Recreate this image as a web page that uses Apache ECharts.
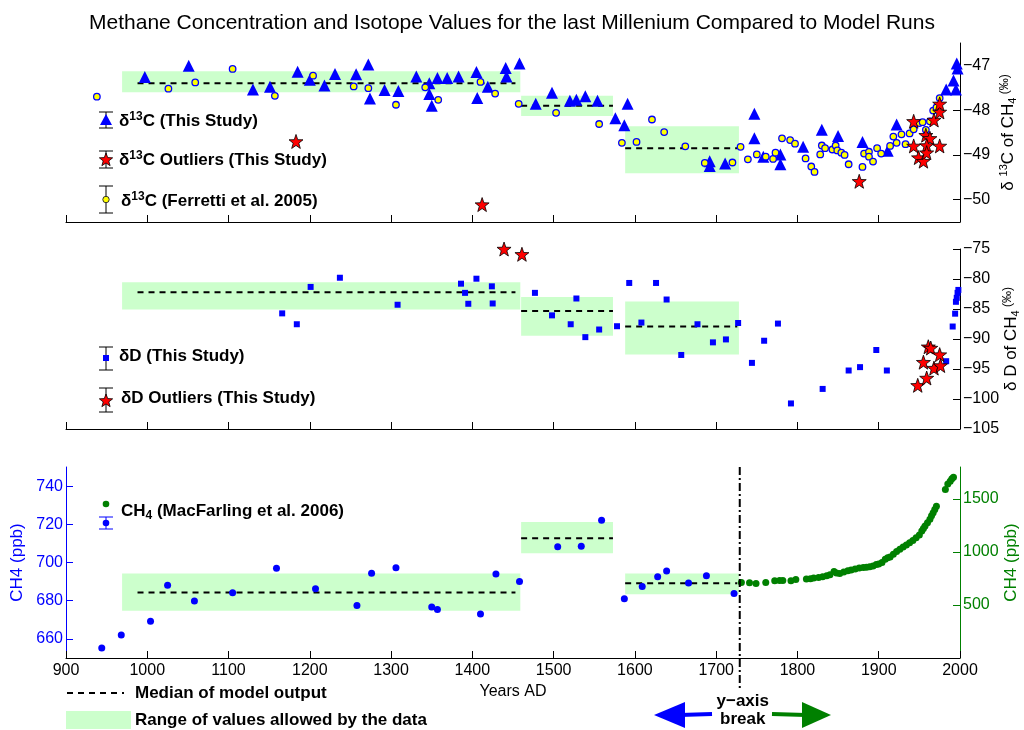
<!DOCTYPE html>
<html><head><meta charset="utf-8">
<script src="https://cdn.jsdelivr.net/npm/echarts@6/dist/echarts.min.js"></script>
<style>html,body{margin:0;padding:0;background:#fff}#c{width:1024px;height:730px}</style>
</head><body><div id="c"></div><script>
// ---------------- DATA ----------------
const xTicks = [900,1000,1100,1200,1300,1400,1500,1600,1700,1800,1900,2000];
const d13cTicks = [-50,-49,-48,-47];
const dDTicks = [-105,-100,-95,-90,-85,-80,-75];
const ch4LeftTicks = [660,680,700,720,740];
const ch4RightTicks = [500,1000,1500];

const d13cThisStudy = [[997,-47.26],[1051,-47.01],[1130,-47.54],[1151,-47.48],[1185,-47.14],[1200,-47.32],[1218,-47.45],[1231,-47.19],[1257,-47.2],[1272,-46.98],[1274,-47.74],[1292,-47.55],[1309,-47.57],[1331,-47.25],[1347,-47.4],[1347,-47.64],[1350,-47.9],[1357,-47.28],[1369,-47.28],[1383,-47.25],[1405,-47.15],[1406,-47.73],[1419,-47.48],[1441,-47.06],[1442,-47.25],[1458,-46.96],[1478,-47.86],[1498,-47.61],[1520,-47.79],[1528,-47.77],[1539,-47.69],[1554,-47.79],[1576,-48.18],[1587,-48.34],[1591,-47.86],[1692,-49.14],[1692,-49.25],[1711,-49.19],[1747,-48.08],[1747,-48.63],[1758,-49.04],[1779,-48.99],[1779,-49.21],[1807,-48.82],[1830,-48.44],[1850,-48.58],[1880,-48.71],[1911,-48.91],[1922,-48.32],[1983,-47.54],[1992,-47.34],[1995,-47.54],[1996,-46.96],[1997,-47.07]];
const d13cOutliers = [[1183,-48.7],[1412,-50.11],[1876,-49.59],[1943,-48.25],[1943,-48.8],[1949,-49.06],[1955,-49.14],[1958,-48.56],[1963,-48.63],[1959,-48.79],[1959,-48.95],[1968,-48.22],[1975,-48.04],[1975,-47.86],[1975,-48.8]];
const d13cFerretti = [[938,-47.7],[1026,-47.52],[1059,-47.38],[1105,-47.08],[1157,-47.68],[1204,-47.23],[1254,-47.47],[1272,-47.51],[1306,-47.88],[1342,-47.49],[1358,-47.77],[1410,-47.37],[1428,-47.63],[1457,-47.86],[1503,-48.06],[1556,-48.31],[1584,-48.73],[1602,-48.71],[1621,-48.21],[1636,-48.49],[1662,-48.81],[1686,-49.18],[1720,-49.17],[1730,-48.82],[1739,-49.1],[1750,-48.99],[1761,-49.04],[1770,-49.09],[1773,-48.95],[1781,-48.63],[1791,-48.67],[1797,-48.75],[1810,-49.08],[1817,-49.26],[1821,-49.38],[1828,-48.99],[1830,-48.79],[1834,-48.85],[1843,-48.88],[1847,-48.79],[1849,-48.9],[1854,-48.95],[1858,-49.0],[1863,-49.21],[1880,-49.27],[1882,-48.97],[1888,-48.93],[1888,-49.04],[1893,-49.15],[1898,-48.85],[1903,-48.97],[1914,-48.8],[1918,-48.59],[1922,-48.73],[1928,-48.54],[1933,-48.76],[1938,-48.52],[1943,-48.43],[1950,-48.29],[1954,-48.27],[1958,-48.44],[1963,-48.25],[1967,-48.01],[1971,-47.94],[1975,-47.73]];

const dDThisStudy = [[1166,-85.73],[1184,-87.54],[1201,-81.32],[1237,-79.79],[1308,-84.29],[1386,-80.78],[1391,-82.31],[1395,-84.13],[1405,-79.95],[1424,-81.22],[1425,-84.08],[1477,-82.31],[1498,-86.06],[1521,-87.54],[1528,-83.25],[1539,-89.69],[1556,-88.42],[1578,-87.87],[1593,-80.66],[1608,-87.26],[1626,-80.66],[1639,-83.42],[1657,-92.66],[1677,-87.54],[1696,-90.56],[1712,-90.07],[1727,-87.33],[1744,-93.98],[1759,-90.29],[1776,-87.43],[1792,-100.74],[1831,-98.32],[1863,-95.25],[1877,-94.69],[1897,-91.83],[1910,-95.25],[1983,-93.7],[1991,-87.92],[1994,-85.78],[1995,-83.8],[1996,-83.14],[1997,-82.31],[1998,-81.82]];
const dDOutliers = [[1439,-75.0],[1461,-75.88],[1948,-97.72],[1955,-93.86],[1959,-96.5],[1961,-91.29],[1964,-91.5],[1968,-94.85],[1975,-92.6],[1976,-94.42]];

const ch4LawDome = [[944,655.2],[968,662.0],[1004,669.3],[1025,688.1],[1058,679.8],[1105,684.1],[1159,697.0],[1207,686.2],[1258,677.5],[1276,694.4],[1306,697.2],[1350,676.7],[1357,675.4],[1410,673.0],[1429,694.0],[1458,690.0],[1505,708.3],[1534,708.5],[1559,722.1],[1587,681.0],[1609,687.4],[1628,692.6],[1639,695.5],[1666,689.3],[1688,693.0],[1722,683.8]];
const ch4MacFarling = [[1731,712],[1741,709],[1749,703],[1761,712],[1772,728],[1778,730],[1782,731],[1792,728],[1798,740],[1811,744],[1816,748],[1820,753],[1826,758],[1831,766],[1836,775],[1840,784],[1845,815],[1848,800],[1852,797],[1857,810],[1862,822],[1866,830],[1871,838],[1876,848],[1881,853],[1885,856],[1889,859],[1893,868],[1897,880],[1900,885],[1904,900],[1908,931],[1911,945],[1914,953],[1918,978],[1922,1003],[1926,1025],[1930,1047],[1934,1066],[1938,1087],[1942,1108],[1946,1134],[1950,1160],[1953,1197],[1955,1220],[1957,1244],[1960,1275],[1963,1307],[1965,1340],[1967,1369],[1969,1400],[1971,1431],[1982,1588],[1985,1640],[1988,1666],[1990,1690],[1992,1703]];

const modelPeriods = [[969,1459],[1460,1573],[1588,1728]];
const medianSpans = [[988,1453],[1460,1573],[1588,1726]];
const d13cRange = [[-47.13,-47.6],[-47.68,-48.13],[-48.36,-49.41]];
const d13cMedian = [-47.4,-47.9,-48.85];
const dDRange = [[-80.56,-85.07],[-83.0,-89.45],[-83.75,-92.6]];
const dDMedian = [-82.2,-85.35,-87.9];
const ch4Range = [[694.2,674.7],[721.2,704.9],[694.2,683.4]];
const ch4Median = [684.3,712.7,689.2];
const breakYear = 1729;

// ---------------- STYLE ----------------
const FONT = 'Liberation Sans, Arial, Helvetica, sans-serif';
const BLUE = '#0000ff', RED = '#ff0000', YEL = '#ffff00', GRN = '#008000', LG = '#ccffcc';
const STAR = 'path://M0,-10L2.35,-3.24L9.51,-3.09L3.8,1.24L5.88,8.09L0,4.2L-5.88,8.09L-3.8,1.24L-9.51,-3.09L-2.35,-3.24Z';
const minus = v => String(v).replace('-', '\u2212');

function xAx(grid, showLabels) {
  return {
    type: 'value', gridIndex: grid, min: 900, max: 2000, interval: 100,
    axisLine: { show: true, onZero: false, lineStyle: { color: '#000', width: 1 } },
    axisTick: { show: true, inside: true, length: 7, customValues: xTicks, lineStyle: { color: '#000' } },
    axisLabel: { show: showLabels, customValues: xTicks, color: '#000', fontSize: 16, fontFamily: FONT, margin: 5, formatter: v => String(v) },
    splitLine: { show: false },
    name: showLabels ? 'Years AD' : '', nameLocation: 'middle', nameGap: 26, nameMoveOverlap: false,
    nameTextStyle: { color: '#000', fontSize: 16, fontFamily: FONT }
  };
}
function yAx(grid, pos, min, max, ticks, color, name, gap, rich) {
  return {
    type: 'value', gridIndex: grid, position: pos, min: min, max: max,
    axisLine: { show: true, onZero: false, lineStyle: { color: color, width: 1 } },
    axisTick: { show: true, inside: true, length: 7, customValues: ticks, lineStyle: { color: color } },
    axisLabel: { show: true, customValues: ticks, color: color, fontSize: 16, fontFamily: FONT, margin: 3, formatter: minus },
    splitLine: { show: false },
    name: name, nameLocation: 'middle', nameRotate: 90, nameGap: gap, nameMoveOverlap: false,
    nameTextStyle: { color: color, fontSize: 17, fontFamily: FONT, rich: rich }
  };
}
const richName = {
  t: { fontSize: 17, fontFamily: FONT, color: '#000' },
  sup: { fontSize: 11, fontFamily: FONT, color: '#000', padding: [0, 0, 9, 0] },
  sub: { fontSize: 11, fontFamily: FONT, color: '#000', padding: [9, 0, 0, 0] },
  sm: { fontSize: 12, fontFamily: FONT, color: '#000', padding: [0, 0, 7, 0] }
};

const series = [];
function boxes(xi, yi, ranges) {
  series.push({
    type: 'line', xAxisIndex: xi, yAxisIndex: yi, data: [], silent: true, z: 1,
    markArea: { silent: true, itemStyle: { color: LG, opacity: 1 },
      data: modelPeriods.map((p, i) => [{ xAxis: p[0], yAxis: ranges[i][0] }, { xAxis: p[1], yAxis: ranges[i][1] }]) }
  });
}
function medians(xi, yi, meds) {
  medianSpans.forEach((s, i) => series.push({
    type: 'line', xAxisIndex: xi, yAxisIndex: yi, symbol: 'none', silent: true, z: 2,
    lineStyle: { color: '#000', width: 2, type: [6, 5] },
    data: [[s[0], meds[i]], [s[1], meds[i]]]
  }));
}
function scat(xi, yi, data, sym, size, fill, border, bw, z) {
  series.push({
    type: 'scatter', xAxisIndex: xi, yAxisIndex: yi, data: data, symbol: sym, symbolSize: size,
    clip: false, z: z, silent: true,
    itemStyle: { color: fill, borderColor: border || fill, borderWidth: bw || 0, opacity: 1 }
  });
}
boxes(0, 0, d13cRange); medians(0, 0, d13cMedian);
scat(0, 0, d13cThisStudy, 'triangle', 12, BLUE, null, 0, 3);
scat(0, 0, d13cFerretti, 'circle', 6.5, YEL, BLUE, 1.3, 4);
scat(0, 0, d13cOutliers, STAR, 14, RED, '#000', 0.8, 5);

boxes(1, 1, dDRange); medians(1, 1, dDMedian);
scat(1, 1, dDThisStudy, 'rect', 6, BLUE, null, 0, 3);
scat(1, 1, dDOutliers, STAR, 14, RED, '#000', 0.8, 5);

boxes(2, 2, ch4Range); medians(2, 2, ch4Median);
scat(2, 2, ch4LawDome, 'circle', 7, BLUE, null, 0, 3);
scat(2, 3, ch4MacFarling, 'circle', 7, GRN, null, 0, 3);

const chart = echarts.init(document.getElementById('c'), null, { renderer: 'canvas' });
const gridBase = { left: 66, right: 64, containLabel: false, outerBoundsMode: 'none' };
chart.setOption({
  backgroundColor: '#fff',
  animation: false,
  title: { text: 'Methane Concentration and Isotope Values for the last Millenium Compared to Model Runs',
    left: 'center', top: 8, textStyle: { fontSize: 21, fontWeight: 'normal', color: '#000', fontFamily: FONT } },
  grid: [
    Object.assign({ top: 43, height: 179 }, gridBase),
    Object.assign({ top: 249, height: 180 }, gridBase),
    Object.assign({ top: 467, height: 191 }, gridBase)
  ],
  xAxis: [xAx(0, false), xAx(1, false), xAx(2, true)],
  yAxis: [
    yAx(0, 'right', -50.5, -46.5, d13cTicks, '#000', '{t|δ }{sup|13}{t|C of CH}{sub|4}{sm| (‰)}', 38, richName),
    yAx(1, 'right', -105, -75, dDTicks, '#000', '{t|δ D of CH}{sub|4}{sm| (‰)}', 41, richName),
    yAx(2, 'left', 650, 750, ch4LeftTicks, BLUE, 'CH4 (ppb)', 40, null),
    yAx(2, 'right', 0, 1800, ch4RightTicks, GRN, 'CH4 (ppb)', 43, null)
  ],
  series: series
});

// ---------------- ANNOTATIONS / LEGENDS ----------------
const g = [];
const richLeg = {
  sup: { fontSize: 12, fontWeight: 'bold', fontFamily: FONT, padding: [0, 0, 9, 0] },
  sub: { fontSize: 12, fontWeight: 'bold', fontFamily: FONT, padding: [9, 0, 0, 0] }
};
function legText(x, y, txt) {
  g.push({ type: 'text', x: x, y: y, z: 10, style: { text: txt, rich: richLeg, fontSize: 17, fontWeight: 'bold', fontFamily: FONT, fill: '#000', verticalAlign: 'middle', align: 'left' } });
}
function errBar(x, y1, y2, color) {
  const c = color || '#000';
  g.push({ type: 'line', z: 10, shape: { x1: x, y1: y1, x2: x, y2: y2 }, style: { stroke: c, lineWidth: 1 } });
  g.push({ type: 'line', z: 10, shape: { x1: x - 7, y1: y1, x2: x + 7, y2: y1 }, style: { stroke: c, lineWidth: 1 } });
  g.push({ type: 'line', z: 10, shape: { x1: x - 7, y1: y2, x2: x + 7, y2: y2 }, style: { stroke: c, lineWidth: 1 } });
}
function starPts(cx, cy, r) {
  const p = [];
  for (let i = 0; i < 10; i++) {
    const a = -Math.PI / 2 + i * Math.PI / 5, rr = i % 2 ? r * 0.42 : r;
    p.push([cx + rr * Math.cos(a), cy + rr * Math.sin(a)]);
  }
  return p;
}
const IX = 106;
// top panel legend
errBar(IX, 112, 128);
g.push({ type: 'polygon', z: 11, shape: { points: [[IX, 114], [IX - 6, 125], [IX + 6, 125]] }, style: { fill: BLUE } });
legText(119, 121, 'δ{sup|13}C (This Study)');
errBar(IX, 151, 168);
g.push({ type: 'polygon', z: 11, shape: { points: starPts(IX, 160, 7) }, style: { fill: RED, stroke: '#000', lineWidth: 0.8 } });
legText(119, 160, 'δ{sup|13}C Outliers (This Study)');
errBar(IX, 186, 213);
g.push({ type: 'circle', z: 11, shape: { cx: IX, cy: 199.5, r: 3.2 }, style: { fill: YEL, stroke: '#333', lineWidth: 1 } });
legText(121, 201, 'δ{sup|13}C (Ferretti et al. 2005)');
// middle panel legend
errBar(IX, 347, 370);
g.push({ type: 'rect', z: 11, shape: { x: IX - 3, y: 355, width: 6, height: 6 }, style: { fill: BLUE } });
legText(119, 356, 'δD (This Study)');
errBar(IX, 388, 412);
g.push({ type: 'polygon', z: 11, shape: { points: starPts(IX, 401, 7) }, style: { fill: RED, stroke: '#000', lineWidth: 0.8 } });
legText(121, 398, 'δD Outliers (This Study)');
// bottom panel legend
g.push({ type: 'circle', z: 11, shape: { cx: IX, cy: 504, r: 3.3 }, style: { fill: GRN } });
errBar(IX, 517, 529, BLUE);
g.push({ type: 'circle', z: 11, shape: { cx: IX, cy: 523, r: 3.3 }, style: { fill: BLUE } });
legText(121, 511, 'CH{sub|4} (MacFarling et al. 2006)');
// bottom legend
g.push({ type: 'line', z: 10, shape: { x1: 67, y1: 693, x2: 124, y2: 693 }, style: { stroke: '#000', lineWidth: 2, lineDash: [6, 5] } });
g.push({ type: 'text', x: 135, y: 693, z: 10, style: { text: 'Median of model output', fontSize: 17, fontWeight: 'bold', fontFamily: FONT, fill: '#000', verticalAlign: 'middle' } });
g.push({ type: 'rect', z: 10, shape: { x: 66, y: 711, width: 65, height: 18 }, style: { fill: LG } });
g.push({ type: 'text', x: 135, y: 720, z: 10, style: { text: 'Range of values allowed by the data', fontSize: 17, fontWeight: 'bold', fontFamily: FONT, fill: '#000', verticalAlign: 'middle' } });

// y-axis break line positioned through the library's scales
const bx = chart.convertToPixel({ xAxisIndex: 2 }, breakYear);
const byTop = chart.convertToPixel({ yAxisIndex: 2 }, 750);
g.push({ type: 'line', z: 12, shape: { x1: bx, y1: byTop, x2: bx, y2: 691 }, style: { stroke: '#000', lineWidth: 2, lineDash: [8, 3, 2, 3] } });
g.push({ type: 'text', x: bx + 3, y: 701, z: 10, style: { text: 'y\u2212axis', fontSize: 17, fontWeight: 'bold', fontFamily: FONT, fill: '#000', align: 'center', verticalAlign: 'middle' } });
g.push({ type: 'text', x: bx + 3, y: 719, z: 10, style: { text: 'break', fontSize: 17, fontWeight: 'bold', fontFamily: FONT, fill: '#000', align: 'center', verticalAlign: 'middle' } });
// arrows
g.push({ type: 'line', z: 10, shape: { x1: 680, y1: 715, x2: 712, y2: 714 }, style: { stroke: BLUE, lineWidth: 4 } });
g.push({ type: 'polygon', z: 10, shape: { points: [[654, 715], [685, 702], [685, 728]] }, style: { fill: BLUE } });
g.push({ type: 'line', z: 10, shape: { x1: 772, y1: 714, x2: 806, y2: 715 }, style: { stroke: GRN, lineWidth: 4 } });
g.push({ type: 'polygon', z: 10, shape: { points: [[831, 715], [802, 702], [802, 728]] }, style: { fill: GRN } });

chart.setOption({ graphic: g });
</script></body></html>
